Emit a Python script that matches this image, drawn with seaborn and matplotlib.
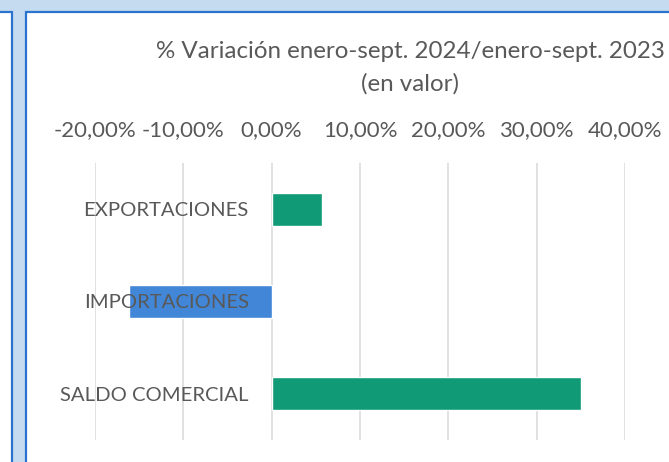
import pandas as pd
import seaborn as sns
import matplotlib.pyplot as plt
from matplotlib.patches import Rectangle
from matplotlib.ticker import FuncFormatter

# data
categorias = ["EXPORTACIONES", "IMPORTACIONES", "SALDO COMERCIAL"]
variacion = [5.7, -16.2, 35.0]
colores = ["#109a75", "#4286d7", "#109a75"]
xticks = [-20, -10, 0, 10, 20, 30, 40]

W, H = 669, 462
TXT = "#595959"


def px(x, y, w, h):
    # pixel box (top-left origin) -> figure fraction
    return (x / W, 1 - (y + h) / H, w / W, h / H)


sns.set_theme(style="white")
plt.rcParams["font.family"] = ["Lato", "DejaVu Sans"]

fig = plt.figure(figsize=(W / 100, H / 100), dpi=100)
fig.patch.set_facecolor("#c4dbf0")

# neighbour panel on the left and our chart panel
for x0, w in [(-5, 16.5), (25.5, 700)]:
    fig.add_artist(Rectangle(px(x0, 11.5, w, 500)[:2], w / W, 500 / H,
                             transform=fig.transFigure, facecolor="white",
                             edgecolor="#2a73cf", linewidth=1.6, zorder=-5))

ax = fig.add_axes(px(95, 163, 530, 277))
ax.set_facecolor("none")

df = pd.DataFrame({"categoria": categorias, "valor": variacion})
sns.barplot(data=df, x="valor", y="categoria", hue="categoria",
            palette=colores, width=0.357, orient="h", legend=False,
            saturation=1, ax=ax)

ax.set_xlim(-20, 40)
ax.set_xticks(xticks)
ax.xaxis.set_major_formatter(FuncFormatter(lambda v, p: f"{v:.2f}%".replace(".", ",")))
ax.xaxis.tick_top()
ax.grid(axis="x", color="#d9d9d9", linewidth=1.1)
ax.set_axisbelow(True)
# category labels sit on top of the bars, as in the original
ax.yaxis.set_zorder(5)
for s in ax.spines.values():
    s.set_visible(False)
ax.spines["left"].set_position(("data", 0))
ax.tick_params(axis="x", length=0, pad=16.5, labelsize=16, labelcolor=TXT)
ax.tick_params(axis="y", length=0, pad=16.5, labelsize=14.6, labelcolor=TXT)
ax.set_xlabel("")
ax.set_ylabel("")

fig.text(410 / W, 1 - 51 / H, "% Variación enero-sept. 2024/enero-sept. 2023",
         ha="center", va="center", fontsize=17.4, color=TXT)
fig.text(410 / W, 1 - 84 / H, "(en valor)",
         ha="center", va="center", fontsize=17.4, color=TXT)

fig.savefig("out.png", dpi=100)
